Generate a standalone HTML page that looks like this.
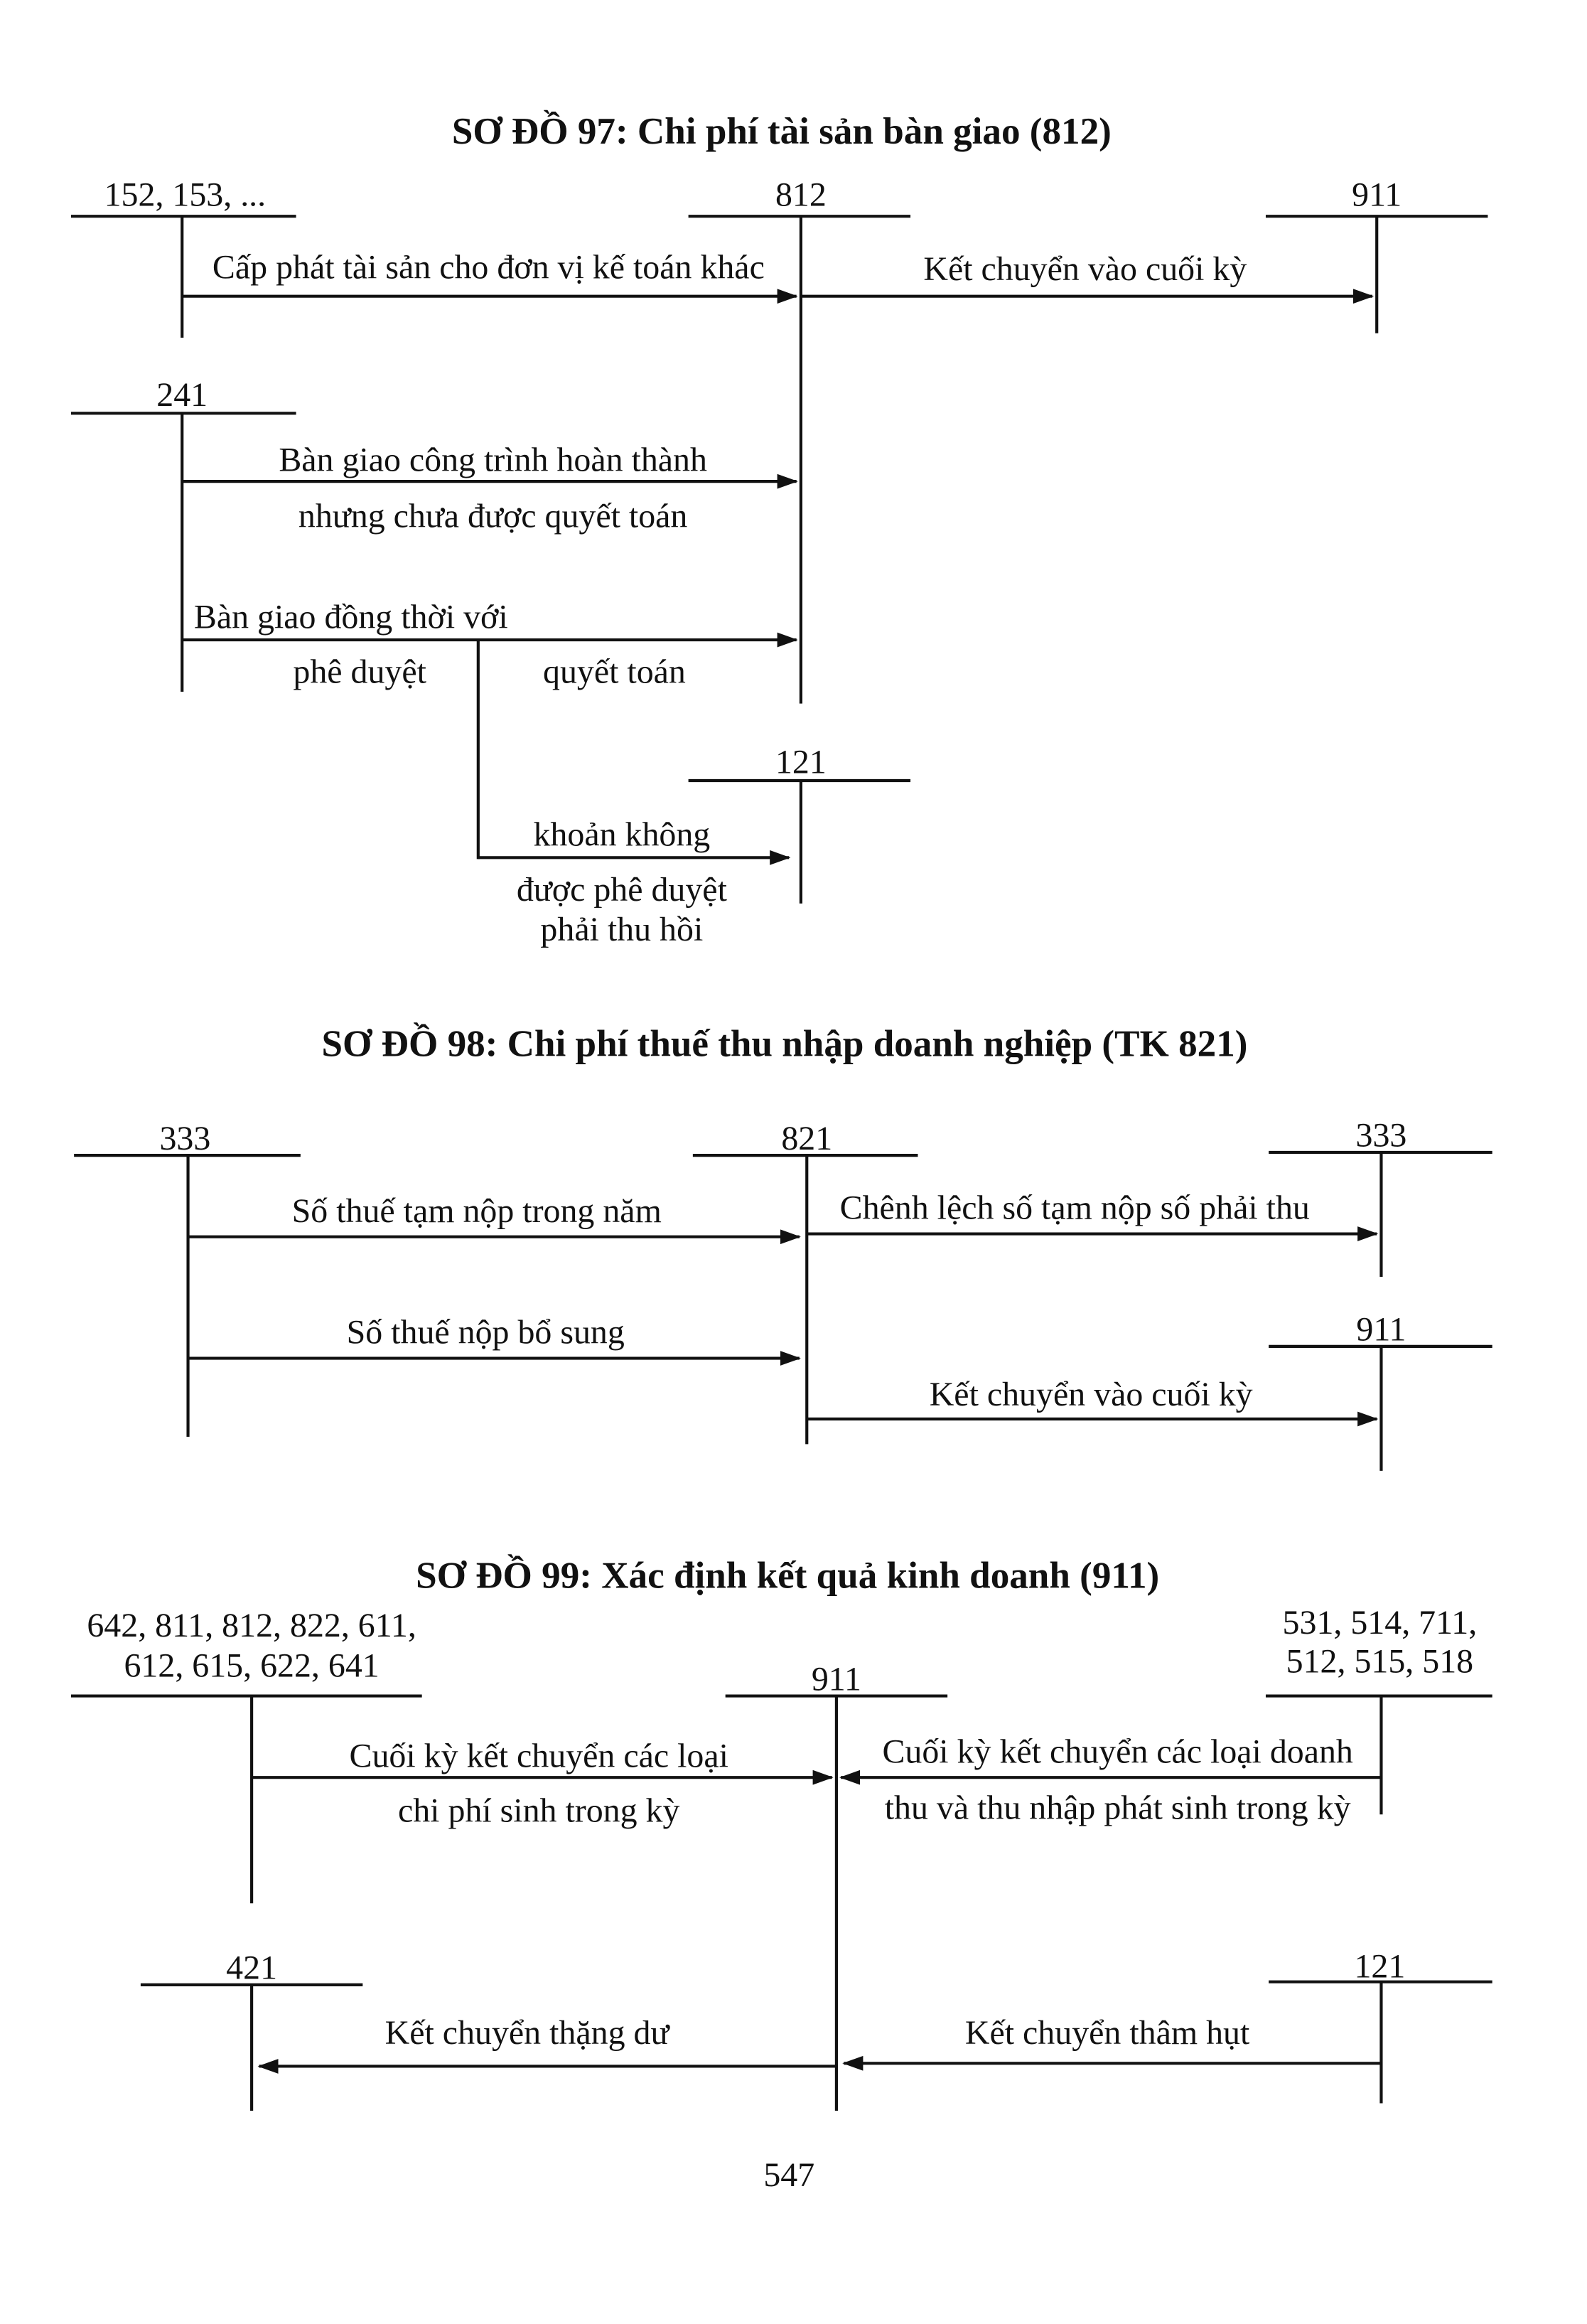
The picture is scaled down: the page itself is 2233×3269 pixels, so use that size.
<!DOCTYPE html>
<html><head><meta charset="utf-8"><style>
html,body{margin:0;padding:0;background:#fff;}
svg{display:block;}
text{font-family:"Liberation Serif",serif;fill:#111;font-size:23px;}
.t{font-weight:bold;font-size:25.5px;}
line{stroke:#111;stroke-width:2;}
</style></head><body>
<svg width="2233" height="3269" viewBox="0 0 1072 1569" preserveAspectRatio="none" xmlns="http://www.w3.org/2000/svg">
<defs><marker id="a" markerWidth="14" markerHeight="10" refX="13" refY="5" orient="auto" markerUnits="userSpaceOnUse"><path d="M0,0 L14,5 L0,10 z" fill="#111"/></marker></defs>
<g text-anchor="middle">
<!-- 97 -->
<text class="t" x="528" y="97">SƠ ĐỒ 97: Chi phí tài sản bàn giao (812)</text>
<text x="125" y="139">152, 153, ...</text>
<line x1="48" y1="146" x2="200" y2="146"/><line x1="123" y1="146" x2="123" y2="228"/>
<text x="541" y="139">812</text>
<line x1="465" y1="146" x2="615" y2="146"/><line x1="541" y1="146" x2="541" y2="475"/>
<text x="930" y="139">911</text>
<line x1="855" y1="146" x2="1005" y2="146"/><line x1="930" y1="146" x2="930" y2="225"/>
<line x1="123" y1="200" x2="538" y2="200" marker-end="url(#a)"/>
<text x="330" y="188">Cấp phát tài sản cho đơn vị kế toán khác</text>
<line x1="541" y1="200" x2="927" y2="200" marker-end="url(#a)"/>
<text x="733" y="189">Kết chuyển vào cuối kỳ</text>
<text x="123" y="274">241</text>
<line x1="48" y1="279" x2="200" y2="279"/><line x1="123" y1="279" x2="123" y2="467"/>
<line x1="123" y1="325" x2="538" y2="325" marker-end="url(#a)"/>
<text x="333" y="318">Bàn giao công trình hoàn thành</text>
<text x="333" y="356">nhưng chưa được quyết toán</text>
<line x1="123" y1="432" x2="538" y2="432" marker-end="url(#a)"/>
<text x="131" y="424" text-anchor="start">Bàn giao đồng thời với</text>
<text x="243" y="461">phê duyệt</text>
<text x="415" y="461">quyết toán</text>
<line x1="323" y1="432" x2="323" y2="580"/>
<line x1="323" y1="579" x2="533" y2="579" marker-end="url(#a)"/>
<text x="541" y="522">121</text>
<line x1="465" y1="527" x2="615" y2="527"/><line x1="541" y1="527" x2="541" y2="610"/>
<text x="420" y="571">khoản không</text>
<text x="420" y="608">được phê duyệt</text>
<text x="420" y="635">phải thu hồi</text>
<!-- 98 -->
<text class="t" x="530" y="713">SƠ ĐỒ 98: Chi phí thuế thu nhập doanh nghiệp (TK 821)</text>
<text x="125" y="776">333</text>
<line x1="50" y1="780" x2="203" y2="780"/><line x1="127" y1="780" x2="127" y2="970"/>
<text x="545" y="776">821</text>
<line x1="468" y1="780" x2="620" y2="780"/><line x1="545" y1="780" x2="545" y2="975"/>
<text x="933" y="774">333</text>
<line x1="857" y1="778" x2="1008" y2="778"/><line x1="933" y1="778" x2="933" y2="862"/>
<line x1="127" y1="835" x2="540" y2="835" marker-end="url(#a)"/>
<text x="322" y="825">Số thuế tạm nộp trong năm</text>
<line x1="545" y1="833" x2="930" y2="833" marker-end="url(#a)"/>
<text x="726" y="823">Chênh lệch số tạm nộp số phải thu</text>
<line x1="127" y1="917" x2="540" y2="917" marker-end="url(#a)"/>
<text x="328" y="907">Số thuế nộp bổ sung</text>
<text x="933" y="905">911</text>
<line x1="857" y1="909" x2="1008" y2="909"/><line x1="933" y1="909" x2="933" y2="993"/>
<line x1="545" y1="958" x2="930" y2="958" marker-end="url(#a)"/>
<text x="737" y="949">Kết chuyển vào cuối kỳ</text>
<!-- 99 -->
<text class="t" x="532" y="1072">SƠ ĐỒ 99: Xác định kết quả kinh doanh (911)</text>
<text x="170" y="1105">642, 811, 812, 822, 611,</text>
<text x="170" y="1132">612, 615, 622, 641</text>
<line x1="48" y1="1145" x2="285" y2="1145"/><line x1="170" y1="1145" x2="170" y2="1285"/>
<text x="565" y="1141">911</text>
<line x1="490" y1="1145" x2="640" y2="1145"/><line x1="565" y1="1145" x2="565" y2="1425"/>
<text x="932" y="1103">531, 514, 711,</text>
<text x="932" y="1129">512, 515, 518</text>
<line x1="855" y1="1145" x2="1008" y2="1145"/><line x1="933" y1="1145" x2="933" y2="1225"/>
<line x1="170" y1="1200" x2="562" y2="1200" marker-end="url(#a)"/>
<text x="364" y="1193">Cuối kỳ kết chuyển các loại</text>
<text x="364" y="1230">chi phí sinh trong kỳ</text>
<line x1="933" y1="1200" x2="568" y2="1200" marker-end="url(#a)"/>
<text x="755" y="1190">Cuối kỳ kết chuyển các loại doanh</text>
<text x="755" y="1228">thu và thu nhập phát sinh trong kỳ</text>
<text x="170" y="1336">421</text>
<line x1="95" y1="1340" x2="245" y2="1340"/><line x1="170" y1="1340" x2="170" y2="1425"/>
<text x="932" y="1335">121</text>
<line x1="857" y1="1338" x2="1008" y2="1338"/><line x1="933" y1="1338" x2="933" y2="1420"/>
<line x1="565" y1="1395" x2="175" y2="1395" marker-end="url(#a)"/>
<text x="356" y="1380">Kết chuyển thặng dư</text>
<line x1="933" y1="1393" x2="570" y2="1393" marker-end="url(#a)"/>
<text x="748" y="1380">Kết chuyển thâm hụt</text>
<text x="533" y="1476">547</text>
</g>
</svg>
</body></html>
